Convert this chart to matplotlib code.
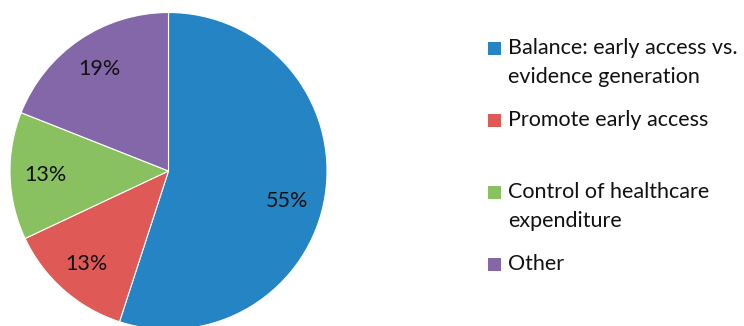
import matplotlib
matplotlib.use("Agg")
import matplotlib.pyplot as plt
import matplotlib.patches as mpatches

# Share of responses by stated objective
categories = [
    "Balance: early access vs.\nevidence generation",
    "Promote early access",
    "Control of healthcare\nexpenditure",
    "Other",
]
shares = [55, 13, 13, 19]
colors = ["#2584C3", "#DF5A56", "#89C060", "#8367A9"]

plt.rcParams["font.family"] = ["Lato", "DejaVu Sans"]

W, H = 744, 326
fig = plt.figure(figsize=(W / 100, H / 100), dpi=100)

# Pie axes: centre and radius in pixels from the top-left corner
cx, cy, r = 168.5, 171, 158.5
ax = fig.add_axes([(cx - r) / W, (H - cy - r) / H, 2 * r / W, 2 * r / H])
wedges, texts, autotexts = ax.pie(
    shares,
    colors=colors,
    startangle=90,
    counterclock=False,
    radius=1.0,
    autopct=lambda p: f"{p:.0f}%",
    pctdistance=0.78,
    wedgeprops=dict(edgecolor="white", linewidth=0.8),
    textprops=dict(fontsize=15.5, color="#111111"),
)
# nudge the large-slice label slightly downward along the arc
x, y = autotexts[0].get_position()
autotexts[0].set_position((x - 0.02, y - 0.07))
ax.set_xlim(-1, 1)
ax.set_ylim(-1, 1)
ax.set_aspect("equal")
ax.axis("off")

# Legend on the right, one slot per category
sq = 13
x_sq = 488
x_txt = 508
y0 = 48
slot = 72
line_h = 29
for i, (label, col) in enumerate(zip(categories, colors)):
    yc = y0 + slot * i
    fig.patches.append(
        mpatches.Rectangle(
            (x_sq / W, (H - yc - sq / 2) / H), sq / W, sq / H,
            transform=fig.transFigure, facecolor=col, edgecolor="none",
        )
    )
    for j, line in enumerate(label.split("\n")):
        fig.text(
            x_txt / W, (H - (yc + j * line_h)) / H, line,
            fontsize=15.5, color="#111111", va="center", ha="left",
        )

fig.savefig("out.png", dpi=100, facecolor="white")
